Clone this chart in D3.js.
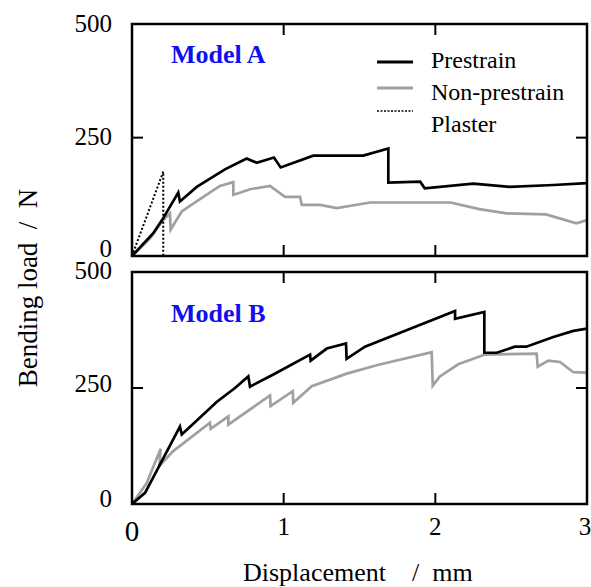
<!DOCTYPE html>
<html>
<head>
<meta charset="utf-8">
<script src="https://cdn.jsdelivr.net/npm/d3@7"></script>
<style>
  body { margin: 0; background: #fff; }
</style>
</head>
<body>
<svg id="chart" width="591" height="587" font-family="Liberation Serif"></svg>
<script>
// displacement (mm), load (N)
var prestrainA = [[0,0],[0.14,48],[0.206,80],[0.305,134],[0.316,115],[0.427,146],[0.613,183],[0.756,206],[0.822,197],[0.936,208],[0.98,187],[1.195,212],[1.525,212],[1.69,227],[1.69,155],[1.9,157],[1.93,143],[2.25,153],[2.49,146],[2.78,150],[3.0,154]];
var nonPrestrainA = [[0,0],[0.119,37],[0.206,76],[0.25,90],[0.255,56],[0.328,94],[0.448,120],[0.58,148],[0.668,156],[0.668,129],[0.778,141],[0.91,148],[1.009,125],[1.108,125],[1.119,108],[1.24,108],[1.35,101],[1.57,113],[2.1,113],[2.29,99],[2.47,90],[2.73,88],[2.93,69],[3.0,76]];
var plasterA = [[0,0],[0.206,178],[0.206,0]];

var prestrainB = [[0,0],[0.086,24],[0.173,78],[0.316,167],[0.328,150],[0.415,176],[0.558,220],[0.679,250],[0.767,275],[0.778,253],[0.932,279],[1.174,322],[1.178,309],[1.284,335],[1.411,346],[1.415,313],[1.536,339],[2.13,416],[2.13,399],[2.323,414],[2.323,326],[2.405,326],[2.525,339],[2.6,339],[2.778,360],[2.91,373],[3.0,378]];
var nonPrestrainB = [[0,0],[0.097,45],[0.189,119],[0.18,82],[0.272,114],[0.514,175],[0.519,162],[0.635,189],[0.635,171],[0.91,234],[0.914,211],[1.06,243],[1.063,218],[1.185,254],[1.416,281],[1.613,299],[1.976,327],[1.983,255],[2.03,275],[2.151,301],[2.327,322],[2.668,324],[2.675,296],[2.745,309],[2.822,306],[2.91,284],[3.0,283]];

var xTicks = [0, 1, 2, 3];
var yTicks = [0, 250, 500];
var legendNames = ["Prestrain", "Non-prestrain", "Plaster"];

var svg = d3.select("#chart");
svg.append("rect").attr("width", 591).attr("height", 587).attr("fill", "#fff");

var x = d3.scaleLinear().domain([0, 3]).range([132, 587]);

var panels = [
  {title: "Model A", titleY: 63, top: 24, bottom: 256, ymax: 490, labelShift: [-8, -1, -1],
   series: [nonPrestrainA, prestrainA], plaster: plasterA},
  {title: "Model B", titleY: 322, top: 272, bottom: 504, ymax: 500, labelShift: [-6, -5, -2],
   series: [nonPrestrainB, prestrainB], plaster: null}
];
var colors = ["#a0a0a0", "#000"];

function txt(sel) {
  return sel.append("text").attr("font-family", "Liberation Serif");
}

panels.forEach(function (p, pi) {
  var y = d3.scaleLinear().domain([0, p.ymax]).range([p.bottom, p.top]);
  var g = svg.append("g");
  var line = d3.line().x(function (d) { return x(d[0]); }).y(function (d) { return y(Math.min(d[1], p.ymax)); });

  var clipId = "clip" + pi;
  g.append("clipPath").attr("id", clipId).append("rect")
    .attr("x", x(0)).attr("y", p.top).attr("width", x(3) - x(0)).attr("height", p.bottom - p.top);

  p.series.forEach(function (s, i) {
    g.append("path").attr("d", line(s)).attr("fill", "none")
      .attr("stroke", colors[i]).attr("stroke-width", 2.7)
      .attr("stroke-linejoin", "miter").attr("clip-path", "url(#" + clipId + ")");
  });
  if (p.plaster) {
    g.append("path").attr("d", line(p.plaster)).attr("fill", "none")
      .attr("stroke", "#000").attr("stroke-width", 2).attr("stroke-dasharray", "2,2");
  }

  // frame
  g.append("rect").attr("x", x(0)).attr("y", p.top).attr("width", x(3) - x(0)).attr("height", p.bottom - p.top)
    .attr("fill", "none").attr("stroke", "#000").attr("stroke-width", 2.5);

  // inward ticks
  [1, 2].forEach(function (t) {
    g.append("line").attr("x1", x(t)).attr("x2", x(t)).attr("y1", p.bottom).attr("y2", p.bottom - 11).attr("stroke", "#000").attr("stroke-width", 2);
    g.append("line").attr("x1", x(t)).attr("x2", x(t)).attr("y1", p.top).attr("y2", p.top + 11).attr("stroke", "#000").attr("stroke-width", 2);
  });
  g.append("line").attr("x1", x(0)).attr("x2", x(0) + 11).attr("y1", y(250)).attr("y2", y(250)).attr("stroke", "#000").attr("stroke-width", 2);
  g.append("line").attr("x1", x(3)).attr("x2", x(3) - 11).attr("y1", y(250)).attr("y2", y(250)).attr("stroke", "#000").attr("stroke-width", 2);

  // y tick labels
  yTicks.forEach(function (t, i) {
    var yy = (t >= p.ymax ? p.top : y(t)) + p.labelShift[i];
    txt(g).attr("x", 112).attr("y", yy).attr("dy", "0.35em")
      .attr("text-anchor", "end").attr("font-size", 25).text(t);
  });

  txt(g).attr("x", 171).attr("y", p.titleY).attr("font-size", 26)
    .attr("font-weight", "bold").attr("fill", "#1010ee").text(p.title);
});

// x tick labels
xTicks.forEach(function (t) {
  txt(svg).attr("x", x(t) - (t == 3 ? 2 : 0)).attr("y", t == 0 ? 541 : 535)
    .attr("text-anchor", "middle").attr("font-size", t == 0 ? 29 : 25).text(t);
});

// axis titles
txt(svg).attr("x", 243).attr("y", 581).attr("text-anchor", "start")
  .attr("font-size", 26).attr("xml:space", "preserve").text("Displacement    /  mm");
txt(svg).attr("transform", "translate(37,288) rotate(-90)").attr("text-anchor", "middle")
  .attr("font-size", 27).attr("xml:space", "preserve").text("Bending load  /  N");

// legend
var legY = [62, 88, 111];
var textY = [68, 100, 132];
legendNames.forEach(function (n, i) {
  var ln = svg.append("line").attr("x1", 377).attr("x2", 413).attr("y1", legY[i]).attr("y2", legY[i]);
  if (i == 0) ln.attr("stroke", "#000").attr("stroke-width", 3);
  if (i == 1) ln.attr("stroke", "#a0a0a0").attr("stroke-width", 3);
  if (i == 2) ln.attr("stroke", "#000").attr("stroke-width", 1.5).attr("stroke-dasharray", "2,1.5");
  txt(svg).attr("x", 431).attr("y", textY[i]).attr("font-size", 24).text(n);
});
</script>
</body>
</html>
